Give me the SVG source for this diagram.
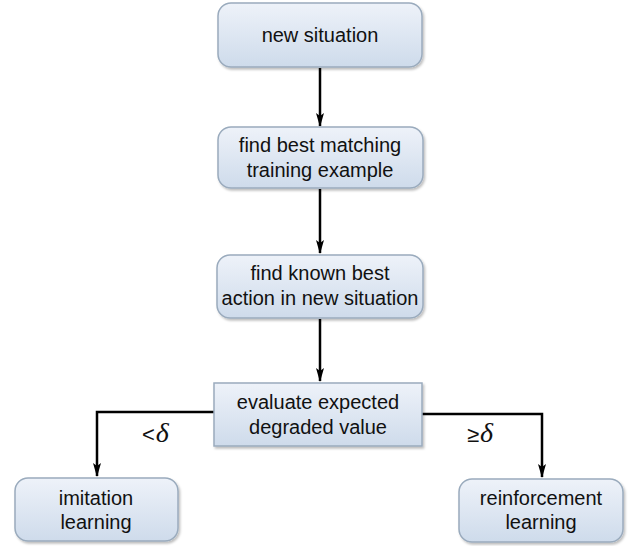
<svg xmlns="http://www.w3.org/2000/svg" width="629" height="546" viewBox="0 0 629 546">
<defs>
<linearGradient id="g" x1="0" y1="0" x2="0" y2="1">
<stop offset="0" stop-color="#eef2f9"/>
<stop offset="1" stop-color="#cedbeb"/>
</linearGradient>
<filter id="sh" x="-10%" y="-10%" width="120%" height="130%">
<feDropShadow dx="1.5" dy="2" stdDeviation="1.2" flood-color="#000" flood-opacity="0.25"/>
</filter>
<marker id="ah" markerWidth="14" markerHeight="8" refX="13" refY="4" orient="auto" markerUnits="userSpaceOnUse" viewBox="0 0 14 8">
<path d="M0,0 L3,4 L0,8 L14,4 Z" fill="#000"/>
</marker>
</defs>
<style>
.box{fill:url(#g);stroke:#9aabbd;stroke-width:1.5;filter:url(#sh)}
.t{font-family:"Liberation Sans",Arial,sans-serif;font-size:20px;fill:#111;text-anchor:middle}
.c{fill:none;stroke:#000;stroke-width:2.5}
.d{font-family:"Liberation Serif","Times New Roman",serif;font-style:italic;font-size:28px;fill:#111}
.s{font-family:"Liberation Sans",Arial,sans-serif;font-size:22px;fill:#111}
</style>
<rect width="629" height="546" fill="#fff"/>
<g id="connectors">
<line class="c" x1="320" y1="68" x2="320" y2="126" marker-end="url(#ah)"/>
<line class="c" x1="320" y1="189" x2="320" y2="253" marker-end="url(#ah)"/>
<line class="c" x1="320" y1="319" x2="320" y2="381" marker-end="url(#ah)"/>
<polyline class="c" points="214,412 97,412 97,476" marker-end="url(#ah)"/>
<polyline class="c" points="422,414 542,414 542,477" marker-end="url(#ah)"/>
<text x="142" y="442"><tspan class="s">&lt;</tspan><tspan class="d" dx="1">δ</tspan></text>
<text x="467" y="442"><tspan class="s">≥</tspan><tspan class="d" dx="1">δ</tspan></text>
</g>
<g id="n1">
<rect class="box" x="218" y="3" width="204" height="64" rx="13"/>
<text class="t" x="320" y="42">new situation</text>
</g>
<g id="n2">
<rect class="box" x="218" y="127" width="205" height="61" rx="13"/>
<text class="t" x="320" y="152">find best matching</text>
<text class="t" x="320" y="177">training example</text>
</g>
<g id="n3">
<rect class="box" x="217" y="255" width="206" height="63" rx="13"/>
<text class="t" x="320" y="280">find known best</text>
<text class="t" x="320" y="305">action in new situation</text>
</g>
<g id="n4">
<rect class="box" x="214" y="383" width="208" height="63"/>
<text class="t" x="318" y="409">evaluate expected</text>
<text class="t" x="318" y="434">degraded value</text>
</g>
<g id="n5">
<rect class="box" x="15" y="478" width="163" height="63" rx="13"/>
<text class="t" x="96" y="505">imitation</text>
<text class="t" x="96" y="529">learning</text>
</g>
<g id="n6">
<rect class="box" x="459" y="479" width="164" height="63" rx="13"/>
<text class="t" x="541" y="505">reinforcement</text>
<text class="t" x="541" y="529">learning</text>
</g>
</svg>
